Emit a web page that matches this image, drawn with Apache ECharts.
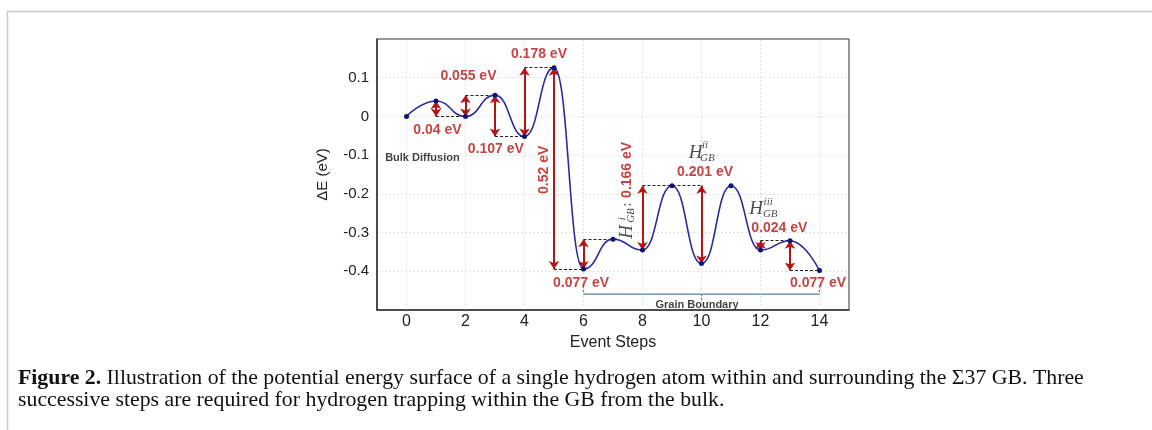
<!DOCTYPE html>
<html>
<head>
<meta charset="utf-8">
<script src="https://cdn.jsdelivr.net/npm/echarts@6/dist/echarts.min.js"></script>
<style>
  html, body { margin: 0; padding: 0; background: #fff; }
  #chart { width: 1152px; height: 430px; }
</style>
</head>
<body>
<div id="chart"></div>
<script>
// Event steps along the hydrogen migration path and relative energy (eV)
const steps = [0, 1, 2, 3, 4, 5, 6, 7, 8, 9, 10, 11, 12, 13, 14];
const energies = [0, 0.04, 0, 0.055, -0.052, 0.126, -0.394, -0.317, -0.345, -0.179, -0.380, -0.179, -0.345, -0.321, -0.398];

const xTickValues = [0, 2, 4, 6, 8, 10, 12, 14];
const yTickValues = [-0.4, -0.3, -0.2, -0.1, 0, 0.1];

// Barrier arrows: step where the arrow stands, from energy, to energy
const barrierX = [1, 2, 3, 4, 5, 6, 8, 10, 12, 13];
const barrierFrom = [0.04, 0, 0.055, -0.052, 0.126, -0.394, -0.345, -0.380, -0.345, -0.321];
const barrierTo = [0, 0.055, -0.052, 0.126, -0.394, -0.317, -0.179, -0.179, -0.321, -0.398];
const barrierText = ['0.04 eV', '0.055 eV', '0.107 eV', '0.178 eV', '0.52 eV', '0.077 eV', '0.166 eV', '0.201 eV', '0.024 eV', '0.077 eV'];

// Dashed reference levels: start step, end step, energy
const levelStart = [1, 2, 3, 4, 5, 6, 8, 12, 13];
const levelEnd = [2, 3, 4, 5, 6, 7, 10, 13, 14];
const levelValue = [0, 0.055, -0.052, 0.126, -0.394, -0.317, -0.179, -0.321, -0.398];

// Grain boundary bracket (steps 6 to 14)
const bracketX = [6, 6, 10, 10, 10, 14, 14];
const bracketY = [-0.44, -0.459, -0.459, -0.475, -0.459, -0.459, -0.44];

const RED = '#b51414';
const SANS = '"Liberation Sans", Arial, Helvetica, sans-serif';
const SERIF = '"Liberation Serif", "DejaVu Serif", serif';

const textStyles = {
  red:   { color: RED, fontFamily: SANS, fontWeight: 'bold', fontSize: 14 },
  note:  { color: '#111', fontFamily: SANS, fontWeight: 'bold', fontSize: 11 },
  H:     { color: '#222', fontFamily: SERIF, fontStyle: 'italic', fontSize: 19 },
  script:{ color: '#222', fontFamily: SERIF, fontStyle: 'italic', fontSize: 11 },
  colon: { color: '#222', fontFamily: SERIF, fontSize: 15 }
};

// Label placement in data coordinates: [x, y, rotation]
const barrierLabelPos = [
  [1.05, -0.035, 0], [2.10, 0.104, 0], [3.03, -0.084, 0], [4.49, 0.161, 0], [4.66, -0.138, 90],
  [5.92, -0.430, 0], [7.47, -0.138, 90], [10.12, -0.145, 0], [12.64, -0.288, 0], [13.95, -0.430, 0]
];
const extraNotes = [
  { t: 'Bulk Diffusion', k: 'note', p: [0.54, -0.107, 0] },
  { t: 'Grain Boundary', k: 'note', p: [9.85, -0.487, 0] },
  { t: ':',   k: 'colon',  p: [7.47, -0.228, 90] },
  { t: 'H',   k: 'H',      p: [7.47, -0.298, 90] },
  { t: 'i',   k: 'script', p: [7.30, -0.264, 90] },
  { t: 'GB',  k: 'script', p: [7.62, -0.256, 90] },
  { t: 'H',   k: 'H',      p: [9.80, -0.095, 0] },
  { t: 'ii',  k: 'script', p: [10.12, -0.074, 0] },
  { t: 'GB',  k: 'script', p: [10.20, -0.107, 0] },
  { t: 'H',   k: 'H',      p: [11.85, -0.240, 0] },
  { t: 'iii', k: 'script', p: [12.26, -0.222, 0] },
  { t: 'GB',  k: 'script', p: [12.33, -0.252, 0] }
];

const noteData = barrierText.map((t, i) => ({ t: t, k: 'red', p: barrierLabelPos[i] }))
  .concat(extraNotes)
  .map(n => ({
    value: [n.p[0], n.p[1]],
    label: Object.assign({
      show: true, position: 'inside', align: 'center', verticalAlign: 'middle',
      rotate: n.p[2], formatter: n.t
    }, textStyles[n.k])
  }));

const chart = echarts.init(document.getElementById('chart'), null, { renderer: 'canvas' });

chart.setOption({
  animation: false,
  backgroundColor: '#fff',
  grid: {
    left: 377, top: 39, width: 472, height: 271,
    show: true, borderColor: '#333', borderWidth: 1, backgroundColor: 'transparent', z: 10
  },
  xAxis: {
    type: 'value', min: -1, max: 15, interval: 1,
    name: 'Event Steps', nameLocation: 'middle', nameGap: 20,
    nameTextStyle: { fontFamily: SANS, fontSize: 16, color: '#222' },
    axisLine: { show: true, onZero: false, lineStyle: { color: '#333', width: 1.5 } },
    axisTick: { show: false },
    axisLabel: { customValues: xTickValues, fontFamily: SANS, fontSize: 16, color: '#222', margin: 4 },
    splitLine: { show: false }
  },
  yAxis: {
    type: 'value', min: -0.5, max: 0.2, interval: 0.1,
    name: 'ΔE (eV)', nameLocation: 'middle', nameGap: 47, nameRotate: 90,
    nameTextStyle: { fontFamily: SANS, fontSize: 15, color: '#222' },
    axisLine: { show: true, onZero: false, lineStyle: { color: '#333', width: 1.5 } },
    axisTick: { show: false },
    axisLabel: { customValues: yTickValues, fontFamily: SANS, fontSize: 15, color: '#222', margin: 8 },
    splitLine: { show: true, showMinLine: false, showMaxLine: false, lineStyle: { color: '#e2e2e2', type: [2, 2], width: 1 } }
  },
  series: [
    {
      // vertical grid lines at the labelled steps
      type: 'scatter', data: [], silent: true,
      markLine: {
        silent: true, symbol: 'none', label: { show: false },
        lineStyle: { color: '#e2e2e2', type: [2, 2], width: 1 },
        data: xTickValues.map(v => ({ xAxis: v }))
      }
    },
    {
      // dashed energy levels
      type: 'scatter', data: [], silent: true,
      markLine: {
        silent: true, symbol: 'none', label: { show: false },
        lineStyle: { color: '#222', type: [3, 2], width: 1 },
        data: levelValue.map((v, i) => [{ coord: [levelStart[i], v] }, { coord: [levelEnd[i], v] }])
      }
    },
    {
      // energy barrier arrows
      type: 'scatter', data: [], silent: true,
      markLine: {
        silent: true, symbol: ['arrow', 'arrow'], symbolSize: 8, label: { show: false },
        lineStyle: { color: RED, type: 'solid', width: 2 },
        data: barrierX.map((x, i) => [{ coord: [x, barrierFrom[i]] }, { coord: [x, barrierTo[i]] }])
      }
    },
    {
      type: 'line', name: 'Bracket', silent: true,
      data: bracketX.map((x, i) => [x, bracketY[i]]),
      showSymbol: false, lineStyle: { color: '#4f7fae', width: 1.2 }
    },
    {
      type: 'line', name: 'ΔE',
      data: steps.map((s, i) => [s, energies[i]]),
      smooth: 0.5, smoothMonotone: 'x',
      symbol: 'circle', symbolSize: 5,
      lineStyle: { color: '#2a2a9e', width: 1.6 },
      itemStyle: { color: '#0c1470' },
      z: 5
    },
    {
      type: 'scatter', silent: true, symbolSize: 0, z: 6,
      data: noteData
    }
  ],
  graphic: [
    { type: 'line', shape: { x1: 7, y1: 11.5, x2: 1152, y2: 11.5 }, style: { stroke: '#c8c8c8', lineWidth: 1.5 }, silent: true },
    { type: 'line', shape: { x1: 7.5, y1: 11, x2: 7.5, y2: 430 }, style: { stroke: '#c8c8c8', lineWidth: 1.5 }, silent: true },
    {
      type: 'text', left: 18, top: 367, silent: true,
      style: {
        text: '{b|Figure 2.} Illustration of the potential energy surface of a single hydrogen atom within and surrounding the Σ37 GB. Three\nsuccessive steps are required for hydrogen trapping within the GB from the bulk.',
        font: '21.8px ' + SERIF, fill: '#111', lineHeight: 22,
        rich: { b: { fontWeight: 'bold', fontFamily: SERIF, fontSize: 21.8, fill: '#111' } }
      }
    }
  ]
});
</script>
</body>
</html>
